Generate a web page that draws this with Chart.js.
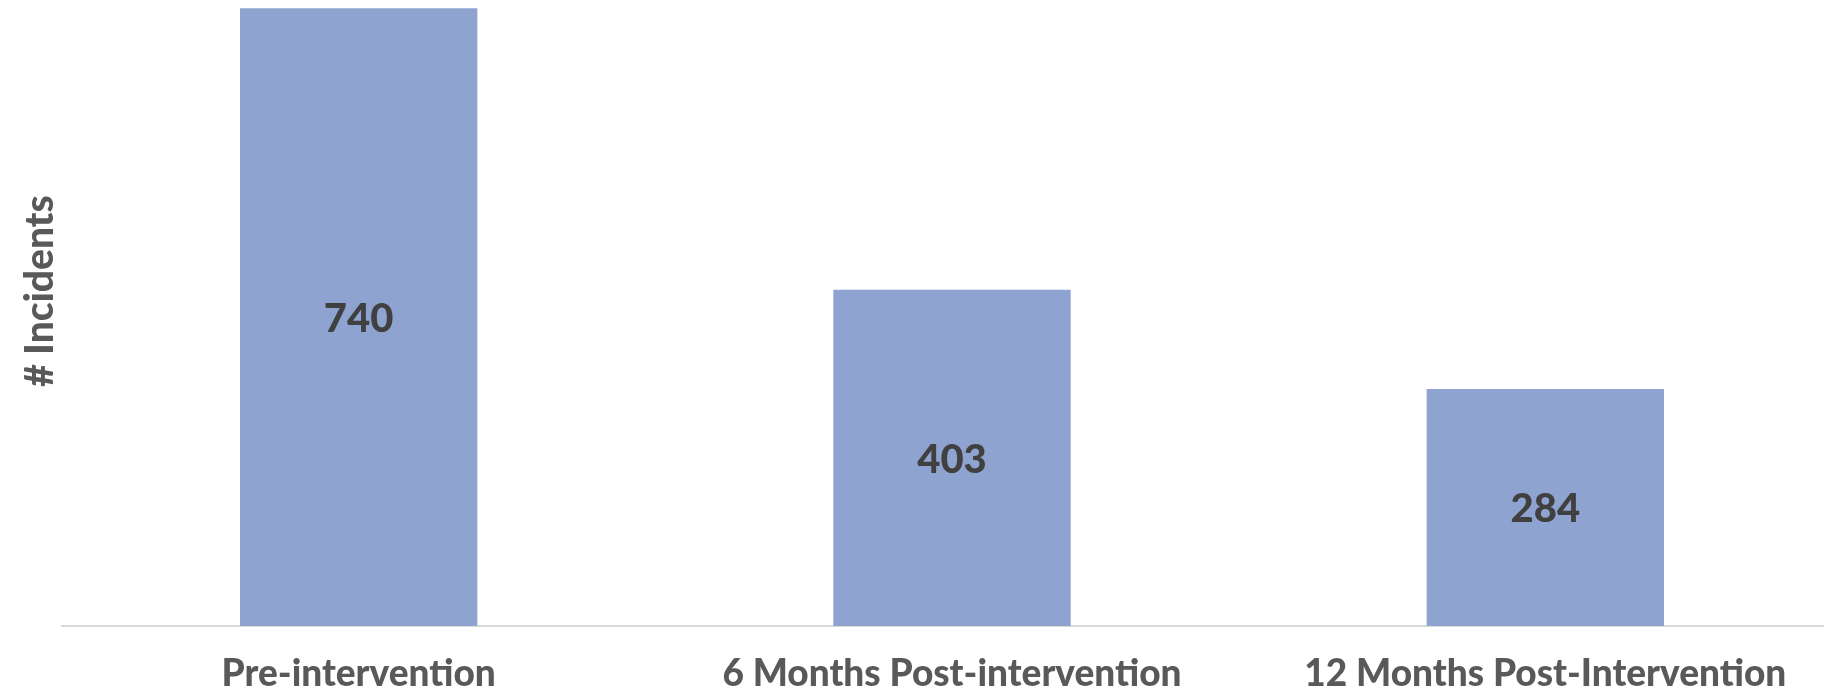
<!DOCTYPE html>
<html>
<head>
<meta charset="utf-8">
<script src="https://cdn.jsdelivr.net/npm/chart.js@4"></script>
<style>
  html, body { margin: 0; padding: 0; background: #fff; overflow: hidden; }
  .wrap { position: relative; width: 1842px; height: 692px; }
</style>
</head>
<body>
<div class="wrap"><canvas id="incidents"></canvas></div>
<script>
const categories = ['Pre-intervention', '6 Months Post-intervention', '12 Months Post-Intervention'];
const incidents = [740, 403, 284];
const yTitle = '# Incidents';

const fontFamily = 'Lato, "Open Sans", sans-serif';

// value labels in the middle of each bar
const barValues = {
    id: 'barValues',
    afterDatasetsDraw(chart) {
        const ctx = chart.ctx;
        const meta = chart.getDatasetMeta(0);
        ctx.save();
        ctx.font = '900 40px ' + fontFamily;
        ctx.fillStyle = '#404040';
        ctx.textAlign = 'center';
        ctx.textBaseline = 'middle';
        meta.data.forEach((bar, i) => {
            const { x, y, base } = bar.getProps(['x', 'y', 'base'], true);
            ctx.fillText(chart.data.datasets[0].data[i], x, (y + base) / 2 + 2);
        });
        ctx.restore();
    }
};

// rotated axis title on the left
const axisTitle = {
    id: 'axisTitle',
    afterDraw(chart) {
        const ctx = chart.ctx;
        ctx.save();
        ctx.translate(40, 291);
        ctx.rotate(-Math.PI / 2);
        ctx.font = '900 39px ' + fontFamily;
        ctx.fillStyle = '#595959';
        ctx.textAlign = 'center';
        ctx.textBaseline = 'middle';
        ctx.fillText(yTitle, 0, 0);
        ctx.restore();
    }
};

new Chart(document.getElementById('incidents'), {
    type: 'bar',
    data: {
        labels: categories,
        datasets: [
            {
                data: incidents,
                backgroundColor: '#8FA3D0',
                borderWidth: 0,
                barPercentage: 0.4,
                categoryPercentage: 1.0,
            },
        ],
    },
    options: {
        responsive: true,
        maintainAspectRatio: false,
        animation: false,
        layout: { padding: { left: 62, right: 0, top: 0, bottom: 0 } },
        plugins: {
            legend: { display: false },
            tooltip: { enabled: false },
        },
        scales: {
            x: {
                afterFit(scale) { scale.height = 66; },
                grid: { display: false, drawTicks: false },
                border: { display: true, color: '#D9D9D9', width: 2 },
                ticks: {
                    color: '#595959',
                    padding: 26,
                    maxRotation: 0,
                    autoSkip: false,
                    font: { family: fontFamily, size: 37, weight: '900' },
                },
            },
            y: {
                display: false,
                min: 0,
                max: 750,
            },
        },
    },
    plugins: [barValues, axisTitle],
});
</script>
</body>
</html>
